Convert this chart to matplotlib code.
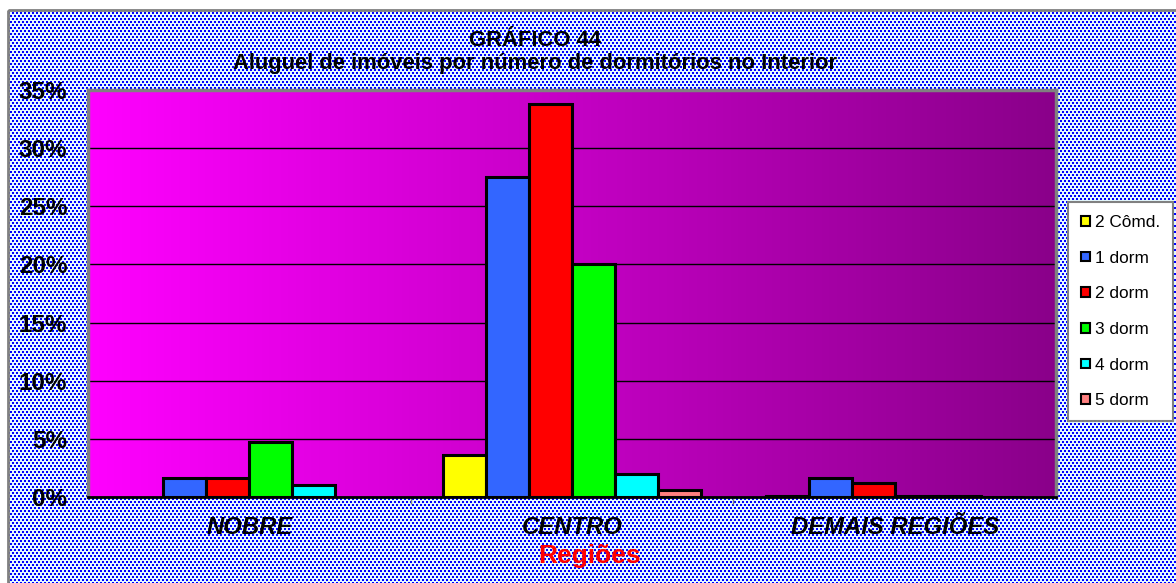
import numpy as np
import matplotlib
matplotlib.use("Agg")
import matplotlib.pyplot as plt
from matplotlib.patches import Patch, Rectangle

plt.rcParams['font.family'] = ['Liberation Sans', 'DejaVu Sans']

categories = ["NOBRE", "CENTRO", "DEMAIS REGIÕES"]
series_names = ["2 Cômd.", "1 dorm", "2 dorm", "3 dorm", "4 dorm", "5 dorm"]
cômd2 = [0.0, 3.6, 0.05]
dorm1 = [1.6, 27.5, 1.6]
dorm2 = [1.6, 33.8, 1.2]
dorm3 = [4.7, 20.0, 0.1]
dorm4 = [1.0, 2.0, 0.05]
dorm5 = [0.0, 0.6, 0.03]
series_values = [cômd2, dorm1, dorm2, dorm3, dorm4, dorm5]
colors = ["#FFFF00", "#3366FF", "#FF0000", "#00FF00", "#00FFFF", "#FF8080"]
yticks = [0, 5, 10, 15, 20, 25, 30, 35]
ytick_labels = ["0%", "5%", "10%", "15%", "20%", "25%", "30%", "35%"]

W, H = 1176, 583
fig = plt.figure(figsize=(W / 100, H / 100), dpi=100)

# patterned background
bg = fig.add_axes([0, 0, 1, 1], zorder=-10)
yy, xx = np.mgrid[0:H, 0:W]
img = np.ones((H, W, 3))
img[:, :] = [0.90, 0.98, 1.0]
row_block = (yy // 3) % 2
dots = ((yy % 3) < 2) & (((xx + row_block * 2) % 4) < 2)
img[dots] = [0, 0, 1]
img[:10, :] = 1.0
img[:, :8] = 1.0
bg.imshow(img, aspect='auto', interpolation='nearest', extent=[0, W, H, 0])
bg.add_patch(Rectangle((8, 10), W, H, fill=False, edgecolor='#808080', lw=2))
bg.set_xlim(0, W)
bg.set_ylim(H, 0)
bg.axis('off')

left, right, top, bottom = 88, 1056, 90, 497
ax = fig.add_axes([left / W, 1 - bottom / H, (right - left) / W, (bottom - top) / H])

# gradient
grad = np.linspace(0, 1, 256)
c0 = np.array([1.0, 0.0, 1.0])
c1 = np.array([0.54, 0.0, 0.54])
gimg = c0[None, None, :] * (1 - grad[None, :, None]) + c1[None, None, :] * grad[None, :, None]
ax.imshow(gimg, aspect='auto', extent=[0, 1, 0, 1], transform=ax.transAxes, zorder=0)

n = len(series_names)
width = 0.8 / n
x = np.arange(len(categories))
handles = []
for i, (name, vals, col) in enumerate(zip(series_names, series_values, colors)):
    v = np.array(vals, dtype=float)
    v[v == 0] = np.nan
    ax.bar(x + (i - (n - 1) / 2) * width, v, width=width, color=col,
           edgecolor='black', linewidth=2.2, zorder=3)
    handles.append(Patch(facecolor=col, edgecolor='black', linewidth=1.5, label=name))

ax.set_xlim(-0.5, len(categories) - 0.5)
ax.set_ylim(0, 35)
ax.set_yticks(yticks)
ax.set_yticklabels(ytick_labels, fontsize=17.5, fontweight='bold')
ax.set_xticks(x)
ax.set_xticklabels(categories, fontsize=17.2, fontweight='bold', fontstyle='italic')
ax.set_xticks([0.5, 1.5], minor=True)
ax.tick_params(axis='x', which='major', length=0, pad=14)
ax.tick_params(axis='x', which='minor', length=5, color='#808080', width=1)
ax.tick_params(axis='y', length=0, pad=15)
ax.yaxis.grid(True, color='black', linewidth=1, zorder=1)
ax.set_axisbelow(True)
for s in ['left', 'top', 'right']:
    ax.spines[s].set_color('#808080')
    ax.spines[s].set_linewidth(2.5)
ax.spines['bottom'].set_color('black')
ax.spines['bottom'].set_linewidth(2)
ax.spines['bottom'].set_zorder(4)

fig.text(590 / W, 1 - 556 / H, "Regiões", ha='center', va='center',
         fontsize=19, fontweight='bold', color='#FF0000')

fig.text(535 / W, 1 - 40 / H, "GRÁFICO 44", ha='center', va='center',
         fontsize=15.8, fontweight='bold')
fig.text(535 / W, 1 - 63 / H, "Aluguel de imóveis por número de dormitórios no Interior",
         ha='center', va='center', fontsize=15.8, fontweight='bold')

leg = fig.legend(handles=handles, loc='upper left',
                 bbox_to_anchor=(1068 / W, 1 - 202 / H), bbox_transform=fig.transFigure,
                 fontsize=12.4, frameon=True, fancybox=False, edgecolor='#808080',
                 framealpha=1, handlelength=0.5, handleheight=0.5, handletextpad=0.3,
                 labelspacing=1.2, borderpad=0.75, borderaxespad=0)
leg.get_frame().set_linewidth(1.5)

fig.savefig("out.png", dpi=100)
